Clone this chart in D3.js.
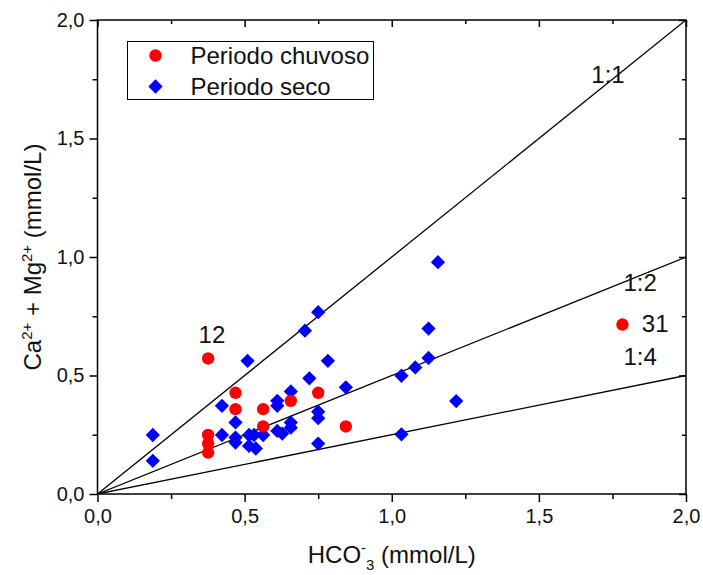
<!DOCTYPE html>
<html lang="en">
<head>
  <meta charset="UTF-8" />
  <title>Ca + Mg vs HCO3</title>
  <script src="https://d3js.org/d3.v7.min.js"></script>
  <style>
    body { margin: 0; background: #fff; font-family: "Liberation Sans", Arial, sans-serif; }
    text { font-family: "Liberation Sans", Arial, sans-serif; fill: #111; }
  </style>
</head>
<body>
  <svg width="703" height="575"></svg>
  <script>
    // rainy period (Periodo chuvoso): [HCO3, Ca+Mg]
    const chuvoso = [
      [0.376, 0.572], [0.469, 0.427], [0.469, 0.358], [0.563, 0.358], [0.657, 0.393],
      [0.750, 0.427], [0.563, 0.285], [0.844, 0.285], [0.376, 0.249], [0.376, 0.213],
      [0.376, 0.175], [1.784, 0.715]
    ];
    // dry period (Periodo seco)
    const seco = [
      [0.188, 0.249], [0.188, 0.140], [0.510, 0.562], [0.750, 0.767], [0.705, 0.689],
      [0.783, 0.562], [0.720, 0.488], [0.844, 0.450], [0.657, 0.433], [0.423, 0.372],
      [0.611, 0.393], [0.611, 0.372], [0.469, 0.302], [0.750, 0.347], [0.750, 0.320],
      [0.657, 0.302], [0.657, 0.280], [0.611, 0.266], [0.628, 0.255], [0.423, 0.249],
      [0.469, 0.238], [0.469, 0.217], [0.515, 0.249], [0.532, 0.249], [0.563, 0.249],
      [0.515, 0.203], [0.538, 0.192], [0.750, 0.213], [1.157, 0.978], [1.125, 0.698],
      [1.125, 0.574], [1.080, 0.534], [1.033, 0.499], [1.219, 0.392], [1.033, 0.252]
    ];
    const ratios = [
      { label: "1:1", slope: 1, at: [1.735, 1.734] },
      { label: "1:2", slope: 0.5, at: [1.844, 0.857] },
      { label: "1:4", slope: 0.25, at: [1.844, 0.546] }
    ];
    const sampleLabels = [
      { label: "12", at: [0.389, 0.671], anchor: "middle" },
      { label: "31", at: [1.85, 0.72], anchor: "start" }
    ];
    const majorTicks = [0, 0.5, 1, 1.5, 2];
    const minorTicks = [0.25, 0.75, 1.25, 1.75];

    const svg = d3.select("svg");
    const margin = { top: 20, right: 17, bottom: 81, left: 97.5 };
    const width = 703 - margin.left - margin.right;
    const height = 575 - margin.top - margin.bottom;
    const g = svg.append("g").attr("transform", `translate(${margin.left},${margin.top})`);

    const x = d3.scaleLinear().domain([0, 2]).range([0, width]);
    const y = d3.scaleLinear().domain([0, 2]).range([height, 0]);
    const fmt = d => d3.format(".1f")(d).replace(".", ",");

    // axes: major ticks labelled, minor ticks unlabelled, mirrored top/right inward
    const styleAxis = sel => {
      sel.select(".domain").remove();
      sel.selectAll("line").attr("stroke", "#000").attr("stroke-width", 1.5);
      sel.selectAll("text").style("font-size", "20px").attr("fill", "#111");
    };
    g.append("g").attr("transform", `translate(0,${height})`)
      .call(d3.axisBottom(x).tickValues(majorTicks).tickFormat(fmt).tickSize(8).tickPadding(7))
      .call(styleAxis);
    g.append("g").attr("transform", `translate(0,${height})`)
      .call(d3.axisBottom(x).tickValues(minorTicks).tickFormat("").tickSize(5))
      .call(styleAxis);
    g.append("g")
      .call(d3.axisLeft(y).tickValues(majorTicks).tickFormat(fmt).tickSize(8).tickPadding(5))
      .call(styleAxis);
    g.append("g")
      .call(d3.axisLeft(y).tickValues(minorTicks).tickFormat("").tickSize(5))
      .call(styleAxis);
    g.append("g")
      .call(d3.axisBottom(x).tickValues(majorTicks).tickFormat("").tickSize(7))
      .call(styleAxis);
    g.append("g")
      .call(d3.axisBottom(x).tickValues(minorTicks).tickFormat("").tickSize(4))
      .call(styleAxis);
    g.append("g").attr("transform", `translate(${width},0)`)
      .call(d3.axisLeft(y).tickValues(majorTicks).tickFormat("").tickSize(7))
      .call(styleAxis);
    g.append("g").attr("transform", `translate(${width},0)`)
      .call(d3.axisLeft(y).tickValues(minorTicks).tickFormat("").tickSize(4))
      .call(styleAxis);

    g.append("rect")
      .attr("width", width).attr("height", height)
      .attr("fill", "none").attr("stroke", "#000").attr("stroke-width", 1.5);

    // reference lines
    svg.append("clipPath").attr("id", "plot-clip")
      .append("rect").attr("width", width).attr("height", height);
    g.append("g").attr("clip-path", "url(#plot-clip)")
      .selectAll("line.ratio").data(ratios).join("line")
      .attr("x1", x(0)).attr("y1", y(0))
      .attr("x2", x(2)).attr("y2", d => y(2 * d.slope))
      .attr("stroke", "#000").attr("stroke-width", 1.3);

    g.selectAll("text.ratio").data(ratios).join("text")
      .attr("class", "ratio")
      .attr("x", d => x(d.at[0])).attr("y", d => y(d.at[1]))
      .attr("text-anchor", "middle")
      .style("font-size", "24px")
      .text(d => d.label);

    // points
    const diamond = d3.symbol().type(d3.symbolDiamond2).size(130);
    g.selectAll("path.seco").data(seco).join("path")
      .attr("class", "seco")
      .attr("transform", d => `translate(${x(d[0])},${y(d[1])})`)
      .attr("d", diamond)
      .attr("fill", "#0000ff");
    g.selectAll("circle.chuvoso").data(chuvoso).join("circle")
      .attr("class", "chuvoso")
      .attr("cx", d => x(d[0])).attr("cy", d => y(d[1]))
      .attr("r", 6.2)
      .attr("fill", "#ff0000");

    g.selectAll("text.sample").data(sampleLabels).join("text")
      .attr("class", "sample")
      .attr("x", d => x(d.at[0])).attr("y", d => y(d.at[1]))
      .attr("dy", "0.35em")
      .attr("text-anchor", d => d.anchor)
      .style("font-size", "24px")
      .text(d => d.label);

    // legend
    const legend = svg.append("g").attr("transform", "translate(127.5,41.5)");
    legend.append("rect").attr("width", 246).attr("height", 58)
      .attr("fill", "#fff").attr("stroke", "#000").attr("stroke-width", 1);
    legend.append("circle").attr("cx", 28).attr("cy", 14).attr("r", 6.2).attr("fill", "#ff0000");
    legend.append("path").attr("transform", "translate(28,45)").attr("d", diamond).attr("fill", "#0000ff");
    legend.append("text").attr("x", 63).attr("y", 22.5).style("font-size", "24px").text("Periodo chuvoso");
    legend.append("text").attr("x", 63).attr("y", 53.5).style("font-size", "24px").text("Periodo seco");

    // axis titles
    const xt = svg.append("text")
      .attr("x", margin.left + width / 2).attr("y", 563)
      .attr("text-anchor", "middle").style("font-size", "24px");
    xt.append("tspan").text("HCO");
    xt.append("tspan").attr("dy", -10).style("font-size", "15px").text("-");
    xt.append("tspan").attr("dy", 17).style("font-size", "15px").text("3");
    xt.append("tspan").attr("dy", -7).text(" (mmol/L)");

    const yt = svg.append("text")
      .attr("transform", `translate(41,${margin.top + height / 2}) rotate(-90)`)
      .attr("text-anchor", "middle").style("font-size", "24px");
    yt.append("tspan").text("Ca");
    yt.append("tspan").attr("dy", -9).style("font-size", "15px").text("2+");
    yt.append("tspan").attr("dy", 9).text(" + Mg");
    yt.append("tspan").attr("dy", -9).style("font-size", "15px").text("2+");
    yt.append("tspan").attr("dy", 9).text(" (mmol/L)");
  </script>
</body>
</html>
